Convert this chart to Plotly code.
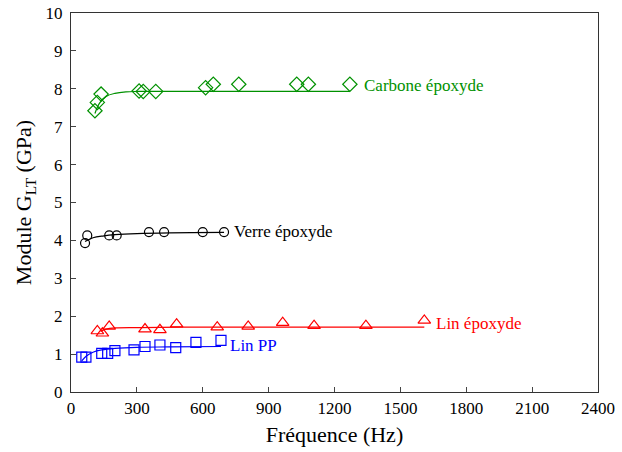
import plotly.graph_objects as go

# ---- data ----
carbone_f = [109, 120, 137, 310, 329, 386, 613, 648, 764, 1028, 1081, 1270]
carbone_g = [7.42, 7.64, 7.86, 7.94, 7.93, 7.93, 8.03, 8.12, 8.12, 8.12, 8.12, 8.12]
carbone_fit_f = [109, 130, 160, 200, 250, 300, 400, 1270]
carbone_fit_g = [7.35, 7.62, 7.80, 7.88, 7.92, 7.93, 7.93, 7.93]

verre_f = [64, 74, 174, 208, 355, 424, 600, 697]
verre_g = [3.93, 4.13, 4.13, 4.13, 4.22, 4.22, 4.22, 4.22]
verre_fit_f = [64, 100, 150, 200, 300, 450, 697]
verre_fit_g = [3.97, 4.07, 4.12, 4.15, 4.18, 4.20, 4.21]

lin_ep_f = [120, 143, 174, 337, 405, 481, 666, 807, 964, 1107, 1343, 1609]
lin_ep_g = [1.61, 1.55, 1.73, 1.66, 1.64, 1.79, 1.71, 1.73, 1.83, 1.75, 1.75, 1.89]
lin_ep_fit_f = [135, 160, 200, 300, 500, 1609]
lin_ep_fit_g = [1.60, 1.66, 1.69, 1.70, 1.71, 1.71]

lin_pp_f = [49, 68, 140, 167, 200, 287, 337, 405, 477, 569, 683]
lin_pp_g = [0.92, 0.92, 1.02, 1.02, 1.09, 1.11, 1.20, 1.24, 1.17, 1.31, 1.36]
lin_pp_fit_f = [49, 70, 100, 140, 200, 300, 450, 683]
lin_pp_fit_g = [0.82, 0.95, 1.05, 1.11, 1.15, 1.18, 1.19, 1.20]

x_ticks = [0, 300, 600, 900, 1200, 1500, 1800, 2100, 2400]
y_ticks = [0, 1, 2, 3, 4, 5, 6, 7, 8, 9, 10]

labels = ["Carbone époxyde", "Verre époxyde", "Lin époxyde", "Lin PP"]
label_pos_f = [1339, 747, 1667, 729]
label_pos_g = [8.08, 4.24, 1.80, 1.22]

GREEN = "rgb(0,145,0)"
BLACK = "black"
RED = "rgb(255,0,0)"
BLUE = "rgb(0,0,255)"
FONT = "Times New Roman, Liberation Serif, Times, serif"

fig = go.Figure()

series = [
    (carbone_f, carbone_g, carbone_fit_f, carbone_fit_g, GREEN, "diamond-open", 11),
    (verre_f, verre_g, verre_fit_f, verre_fit_g, BLACK, "circle-open", 9),
    (lin_ep_f, lin_ep_g, lin_ep_fit_f, lin_ep_fit_g, RED, "triangle-up-open", 11),
    (lin_pp_f, lin_pp_g, lin_pp_fit_f, lin_pp_fit_g, BLUE, "square-open", 10),
]

for xf, yf, xl, yl, col, sym, sz in series:
    fig.add_trace(go.Scatter(x=xl, y=yl, mode="lines",
                             line=dict(color=col, width=1.2, shape="spline", smoothing=1.0),
                             showlegend=False, hoverinfo="skip"))
    fig.add_trace(go.Scatter(x=xf, y=yf, mode="markers",
                             marker=dict(symbol=sym, size=sz, color=col, line=dict(color=col, width=1.2)),
                             showlegend=False))

for txt, xf, yf, col in zip(labels, label_pos_f, label_pos_g, [GREEN, BLACK, RED, BLUE]):
    fig.add_annotation(x=xf, y=yf, text=txt, showarrow=False, xanchor="left", yanchor="middle",
                       xshift=-3, font=dict(family=FONT, size=17, color=col))

fig.update_layout(
    width=622, height=452,
    margin=dict(l=71, r=24, t=13, b=60),
    paper_bgcolor="white", plot_bgcolor="white",
    font=dict(family=FONT, size=17, color="black"),
    xaxis=dict(range=[0, 2400], tickvals=x_ticks, ticks="inside", ticklen=5,
               showline=True, linecolor="#333", linewidth=1.2, mirror=True,
               showgrid=False, zeroline=False, automargin=False,
               title=dict(text="Fréquence (Hz)", font=dict(size=22), standoff=10)),
    yaxis=dict(range=[0, 10], tickvals=y_ticks, ticks="inside", ticklen=5,
               showline=True, linecolor="#333", linewidth=1.2, mirror=True,
               showgrid=False, zeroline=False, automargin=False, ticklabelstandoff=4,
               title=dict(text="Module G<sub>LT</sub> (GPa)", font=dict(size=22), standoff=7)),
)

# remove the default 8px page margin so the 622x452 figure fills the window exactly
fig.write_html("out.html", config={"displayModeBar": False},
               post_script="document.body.style.margin='0';")
